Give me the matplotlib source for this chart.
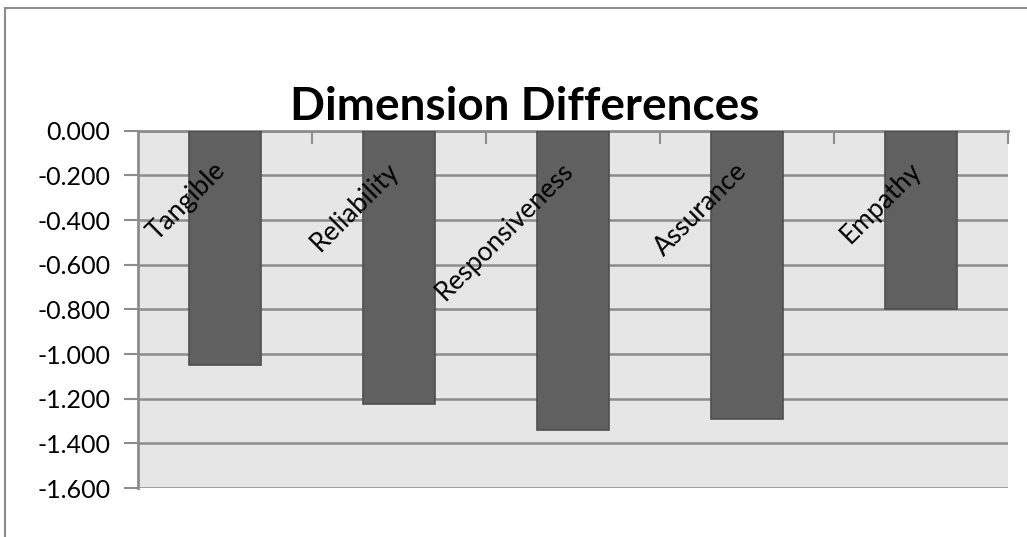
import matplotlib.pyplot as plt
from matplotlib.lines import Line2D
from matplotlib.ticker import FormatStrFormatter

# Dimension gap scores (perception - expectation)
dimensions = ['Tangible', 'Reliability', 'Responsiveness', 'Assurance', 'Empathy']
differences = [-1.047, -1.225, -1.338, -1.292, -0.799]
y_ticks = [0.0, -0.2, -0.4, -0.6, -0.8, -1.0, -1.2, -1.4, -1.6]

plt.rcParams['font.family'] = ['Lato', 'DejaVu Sans']

fig = plt.figure(figsize=(10.27, 5.37), dpi=100)
ax = fig.add_axes([0.1344, 0.0912, 0.8471, 0.6654])
ax.set_facecolor('#e6e6e6')

x = range(len(dimensions))
ax.bar(x, differences, width=0.41, color='#606060', edgecolor='#4f4f4f',
       linewidth=1.2, zorder=3)

ax.set_xlim(-0.5, len(dimensions) - 0.5)
ax.set_ylim(-1.6, 0.0)
ax.set_yticks(y_ticks)
ax.yaxis.set_major_formatter(FormatStrFormatter('%.3f'))
ax.tick_params(axis='y', length=10, width=1.5, color='#8c8c8c',
               labelsize=18, pad=10, direction='out')
ax.grid(axis='y', color='#8c8c8c', linewidth=1.8, zorder=1)

# category separators as ticks on the zero line
ax.set_xticks([i + 0.5 for i in x])
ax.set_xticklabels([])
ax.xaxis.set_ticks_position('top')
ax.tick_params(axis='x', direction='in', length=9, width=1.5, color='#8c8c8c')

for side in ['right', 'bottom']:
    ax.spines[side].set_visible(False)
ax.spines['left'].set_color('#8c8c8c')
ax.spines['left'].set_linewidth(2)
ax.spines['top'].set_color('#8c8c8c')
ax.spines['top'].set_linewidth(2)

# rotated category labels sitting just below the zero line
for i, name in enumerate(dimensions):
    ax.text(i + 0.01, -0.185, name, rotation=45, rotation_mode='anchor',
            ha='right', va='baseline', fontsize=19, color='black', zorder=4)

fig.text(0.511, 0.80, 'Dimension Differences', ha='center', va='center',
         fontsize=33, fontweight='bold')

# chart area border
fig.add_artist(Line2D([5 / 1027, 5 / 1027], [0, 1 - 8 / 537],
                      transform=fig.transFigure, color='#8c8c8c', linewidth=1.5))
fig.add_artist(Line2D([5 / 1027, 1], [1 - 8 / 537, 1 - 8 / 537],
                      transform=fig.transFigure, color='#8c8c8c', linewidth=1.5))

fig.savefig('out.png', dpi=100, facecolor='white')
